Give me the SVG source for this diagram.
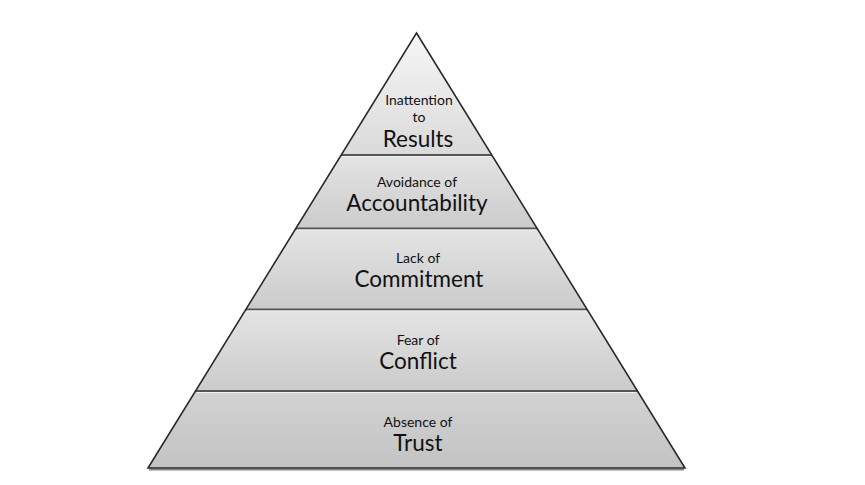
<svg xmlns="http://www.w3.org/2000/svg" width="865" height="485" viewBox="0 0 865 485">
<defs>
<linearGradient id="gTop" x1="0" y1="0" x2="0" y2="1"><stop offset="0" stop-color="#f6f6f6"/><stop offset="1" stop-color="#dadada"/></linearGradient>
<linearGradient id="gL" x1="0" y1="0" x2="0" y2="1"><stop offset="0" stop-color="#e4e4e4"/><stop offset="1" stop-color="#cbcbcb"/></linearGradient>
<linearGradient id="gB" x1="0" y1="0" x2="0" y2="1"><stop offset="0" stop-color="#d2d2d2"/><stop offset="1" stop-color="#c3c3c3"/></linearGradient>
</defs>
<style>
.layer{stroke:none}
.sm{font-family:"Lato","Open Sans",sans-serif;font-size:14px;fill:#111;text-anchor:middle}
.lg{font-family:"Lato","Open Sans",sans-serif;font-size:22.5px;fill:#111;text-anchor:middle}
.div{stroke:#555;stroke-width:2}
.hl{stroke:#f0f0f0;stroke-width:1}
.edge{fill:none;stroke:#2a2a2a;stroke-width:1.6;stroke-linejoin:miter}
</style>
<rect width="865" height="485" fill="#fff"/>
<g id="layer-results">
<polygon class="layer" fill="url(#gTop)" points="416.5,33 491.8,155 341.2,155"/>
<text class="sm" x="419" y="105">Inattention</text>
<text class="sm" x="419" y="122">to</text>
<text class="lg" x="418" y="147">Results</text>
</g>
<g id="layer-accountability">
<polygon class="layer" fill="url(#gL)" points="341.2,155 491.8,155 537.2,228.5 295.8,228.5"/>
<text class="sm" x="417" y="187">Avoidance of</text>
<text class="lg" x="417" y="211">Accountability</text>
</g>
<g id="layer-commitment">
<polygon class="layer" fill="url(#gL)" points="295.8,228.5 537.2,228.5 587.2,309.5 245.8,309.5"/>
<text class="sm" x="418" y="263">Lack of</text>
<text class="lg" x="419" y="287">Commitment</text>
</g>
<g id="layer-conflict">
<polygon class="layer" fill="url(#gL)" points="245.8,309.5 587.2,309.5 637.5,391 195.5,391"/>
<text class="sm" x="418" y="345">Fear of</text>
<text class="lg" x="418" y="369">Conflict</text>
</g>
<g id="layer-trust">
<polygon class="layer" fill="url(#gB)" points="195.5,391 637.5,391 685,468 148,468"/>
<text class="sm" x="418" y="427">Absence of</text>
<text class="lg" x="418" y="451">Trust</text>
</g>
<g id="connectors">
<line class="div" x1="341.2" y1="155" x2="491.8" y2="155"/>
<line class="hl" x1="342" y1="156.5" x2="491" y2="156.5"/>
<line class="div" x1="295.8" y1="228.5" x2="537.2" y2="228.5"/>
<line class="hl" x1="297" y1="230" x2="536" y2="230"/>
<line class="div" x1="245.8" y1="309.5" x2="587.2" y2="309.5"/>
<line class="hl" x1="247" y1="311" x2="586" y2="311"/>
<line class="div" x1="195.5" y1="391" x2="637.5" y2="391"/>
<line class="hl" x1="197" y1="392.5" x2="636" y2="392.5"/>
<line x1="149" y1="469.5" x2="684" y2="469.5" stroke="#888" stroke-width="2"/>
<polygon class="edge" points="416.5,33 685,468 148,468"/>
</g>
</svg>
